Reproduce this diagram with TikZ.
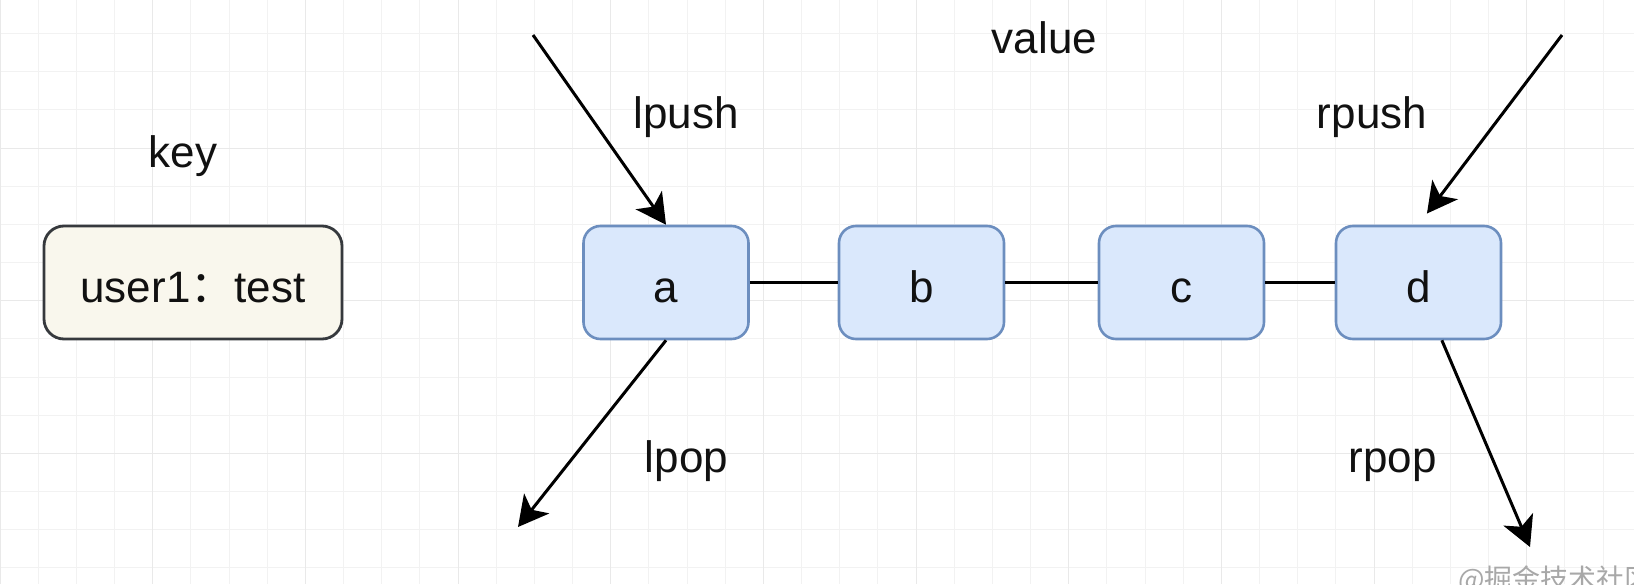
\documentclass[tikz,border=0pt]{standalone}
\usepackage{fontspec}
\setmainfont{Liberation Sans}
\newfontfamily\cjkfont{Noto Sans CJK SC}
\usetikzlibrary{arrows.meta}
\definecolor{gridminor}{HTML}{F2F2F2}
\definecolor{gridmajor}{HTML}{E9E9E9}
\definecolor{boxfill}{HTML}{DAE8FC}
\definecolor{boxline}{HTML}{6C8EBF}
\definecolor{keyfill}{HTML}{F9F7ED}
\definecolor{keyline}{HTML}{36393D}
\definecolor{ink}{HTML}{111111}
\definecolor{wmark}{HTML}{A8A8A8}
\begin{document}
\begin{tikzpicture}[x=1pt,y=1pt,
  bigfont/.style={font=\fontsize{44pt}{52pt}\selectfont, text=ink},
  lbl/.style={bigfont, inner sep=0pt, anchor=base},
  elem/.style={bigfont, draw=boxline, fill=boxfill, line width=2.6pt,
    rounded corners=17pt, minimum width=165pt, minimum height=113pt,
    inner sep=0pt, text height=39pt, text depth=0pt},
  keybox/.style={bigfont, draw=keyline, fill=keyfill, line width=2.8pt,
    rounded corners=20pt, minimum width=298pt, minimum height=113pt,
    inner sep=0pt, text height=39pt, text depth=0pt},
  link/.style={draw=black, line width=3pt},
  arr/.style={draw=black, line width=3pt, -{Stealth[length=30pt,width=32pt,inset=8pt]}},
  minorline/.style={draw=gridminor, line width=1pt},
  majorline/.style={draw=gridmajor, line width=1pt}
]
\useasboundingbox (0,0) rectangle (1634,-584);
\clip (0,0) rectangle (1634,-584);
\fill[white] (0,0) rectangle (1634,-584);
% grid
\foreach \i in {0,...,43} { \draw[minorline] (\i*38.17,0) -- (\i*38.17,-584); }
\foreach \j in {-4,...,12} { \draw[minorline] (0,-148-\j*38.17) -- (1634,-148-\j*38.17); }
\foreach \i in {0,4,...,40} { \draw[majorline] (\i*38.17,0) -- (\i*38.17,-584); }
\foreach \j in {-4,0,4,8} { \draw[majorline] (0,-148-\j*38.17) -- (1634,-148-\j*38.17); }

% key
\node[lbl] (keylbl) at (183,-167) {key};
\node[keybox] (key) at (193,-282.5) {user1{\cjkfont ：}test};

% list elements
\node[elem] (a) at (666,-282.5) {a};
\node[elem] (b) at (921.5,-282.5) {b};
\node[elem] (c) at (1181.5,-282.5) {c};
\node[elem] (d) at (1418.5,-282.5) {d};
\draw[link] (a) -- (b);
\draw[link] (b) -- (c);
\draw[link] (c) -- (d);

% labels
\node[lbl] (value) at (1044.5,-53) {value};
\node[lbl] (lpush) at (686,-128) {lpush};
\node[lbl] (rpush) at (1372,-128) {rpush};
\node[lbl] (lpop) at (686.5,-472) {lpop};
\node[lbl] (rpop) at (1392.5,-472) {rpop};

% arrows
\coordinate (lpushS) at (533,-35);
\coordinate (rpushS) at (1562,-35);
\coordinate (lpopE) at (518,-527);
\coordinate (rpopE) at (1530,-547);
\draw[arr] (lpushS) -- (a.north);
\draw[arr, shorten >=14pt] (rpushS) -- (d.north);
\draw[arr] (a.south) -- (lpopE);
\draw[arr] (d.-68) -- (rpopE);

% watermark
\node[anchor=base west, inner sep=0pt, text=wmark, font=\cjkfont\fontsize{28pt}{32pt}\selectfont] (wm) at (1458,-589) {@掘金技术社区};
\end{tikzpicture}
\end{document}
